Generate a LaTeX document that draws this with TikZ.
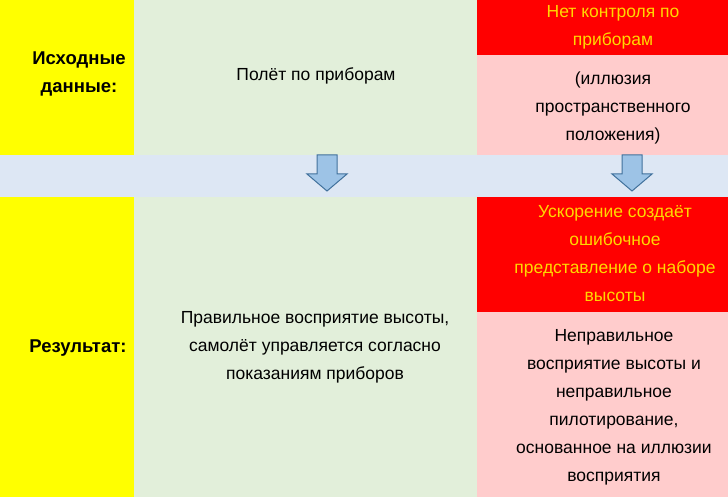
\documentclass[tikz,border=0pt]{standalone}
\usepackage{fontspec}
\setmainfont{Liberation Sans}
\definecolor{cyel}{HTML}{FFFF00}
\definecolor{cgreen}{HTML}{E2EFDA}
\definecolor{cband}{HTML}{DDE7F4}
\definecolor{cred}{HTML}{FF0000}
\definecolor{cpink}{HTML}{FFCCCC}
\definecolor{ctxt}{HTML}{FFD800}
\definecolor{carrowfill}{HTML}{9DC3E6}
\definecolor{carrowline}{HTML}{41719C}
\tikzset{
  cell/.style={draw=none, inner sep=0pt, outer sep=0pt, anchor=north west},
  txt/.style={align=center, font=\fontsize{17.5}{28}\selectfont, inner sep=0pt},
  lbl/.style={txt, font=\fontsize{18.5}{28}\selectfont\bfseries},
  blockarrow/.style={fill=carrowfill, draw=carrowline, line width=1pt, line join=miter}
}
\begin{document}
\begin{tikzpicture}[x=1pt,y=1pt]
\useasboundingbox (0,0) rectangle (728,-497);
% background cells
\fill[cband] (0,-155) rectangle (728,-197);
\node[cell, fill=cyel, minimum width=134, minimum height=155] (ytop) at (0,0) {};
\node[cell, fill=cyel, minimum width=134, minimum height=300] (ybot) at (0,-197) {};
\node[cell, fill=cgreen, minimum width=343, minimum height=155] (gtop) at (134,0) {};
\node[cell, fill=cgreen, minimum width=343, minimum height=300] (gbot) at (134,-197) {};
\node[cell, fill=cred, minimum width=251, minimum height=55] (rtop) at (477,0) {};
\node[cell, fill=cpink, minimum width=251, minimum height=100] (ptop) at (477,-55) {};
\node[cell, fill=cred, minimum width=251, minimum height=115] (rbot) at (477,-197) {};
\node[cell, fill=cpink, minimum width=251, minimum height=185] (pbot) at (477,-312) {};
% texts
\node[lbl] (l1) at (79,-74) {Исходные\\данные:};
\node[lbl] (l2) at (78,-348) {Результат:};
\node[txt] (t1) at (316,-76) {Полёт по приборам};
\node[txt] (t2) at (315,-347) {Правильное восприятие высоты,\\самолёт управляется согласно\\показаниям приборов};
\node[txt, text=ctxt] (t3) at (613,-27) {Нет контроля по\\приборам};
\node[txt] (t4) at (613,-108) {(иллюзия\\пространственного\\положения)};
\node[txt, text=ctxt] (t5) at (615,-254) {Ускорение создаёт\\ошибочное\\представление о наборе\\высоты};
\node[txt] (t6) at (614,-407) {Неправильное\\восприятие высоты и\\неправильное\\пилотирование,\\основанное на иллюзии\\восприятия};
% block arrows
\draw[blockarrow] (317,-155) -- (337,-155) -- (337,-174) -- (347,-174) -- (327,-191) -- (307,-174) -- (317,-174) -- cycle;
\draw[blockarrow] (622,-155) -- (642,-155) -- (642,-174) -- (652,-174) -- (632,-191) -- (612,-174) -- (622,-174) -- cycle;
\end{tikzpicture}
\end{document}
